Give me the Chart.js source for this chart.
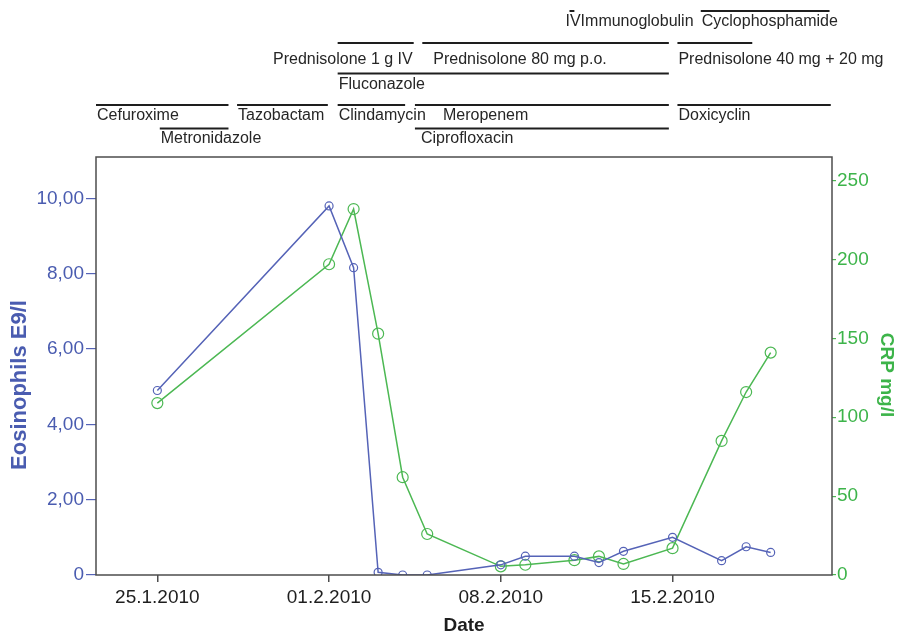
<!DOCTYPE html>
<html>
<head>
<meta charset="utf-8">
<script src="https://cdn.jsdelivr.net/npm/chart.js@4.4.1/dist/chart.umd.min.js"></script>
<style>
  html, body { margin: 0; padding: 0; background: #fff; }
  #wrap { width: 901px; height: 637px; position: relative; }
</style>
</head>
<body>
<div id="wrap"><canvas id="grafico"></canvas></div>
<script>
// sample dates (day.month, 2010)
var dates = ['25.1', '1.2', '2.2', '3.2', '4.2', '5.2', '8.2', '9.2', '11.2', '12.2', '13.2', '15.2', '17.2', '18.2', '19.2'];
var eosinophils = [4.9, 9.8, 8.16, 0.07, 0, 0, 0.27, 0.5, 0.5, 0.33, 0.63, 1.0, 0.38, 0.75, 0.6];
var crp = [109, 197, 232, 153, 62, 26, 5.5, 6.5, 9.4, 11.8, 7, 17, 85, 116, 141];

var xTickLabels = ['25.1.2010', '01.2.2010', '08.2.2010', '15.2.2010'];
var eosTicks = [0, 2, 4, 6, 8, 10];
var crpTicks = [0, 50, 100, 150, 200, 250];

// therapies, start/end as day of year 2010 (1 = 1 Jan), row 0 = top
var therapyNames = ['IVImmunoglobulin', 'Cyclophosphamide',
  'Prednisolone 1 g IV', 'Prednisolone 80 mg p.o.', 'Prednisolone 40 mg + 20 mg',
  'Fluconazole',
  'Cefuroxime', 'Tazobactam', 'Clindamycin', 'Meropenem', 'Doxicyclin',
  'Metronidazole', 'Ciprofloxacin'];
var therapyStart = [41.8, 47.15, 32.35, 35.8, 46.2, 32.35, 22.5, 28.25, 32.35, 35.5, 46.2, 25.1, 35.5];
var therapyEnd   = [42.0, 52.4, 35.45, 45.85, 49.25, 45.85, 27.9, 31.95, 35.1, 45.85, 52.45, 27.9, 45.85];
var therapyRow   = [0, 0, 1, 1, 1, 2, 3, 3, 3, 3, 3, 4, 4];

// layout of the therapy band (pixels)
var barY = [11, 43, 73.5, 105, 128.5];
var labelY = [22, 60, 85, 115.5, 138.5];
var labelShift = { 'IVImmunoglobulin': -5, 'Prednisolone 80 mg p.o.': 10, 'Meropenem': 27, 'Ciprofloxacin': 5 };

var BLUE = '#5563b7';
var BLUE_TXT = '#4a5cb0';
var GREEN = '#4cb853';
var GREEN_TXT = '#3db44a';
var FONT = '"Liberation Sans", Arial, sans-serif';

function dayOfYear(s) {
  var p = s.split('.');
  var d = parseInt(p[0], 10), m = parseInt(p[1], 10);
  return m === 1 ? d : 31 + d;
}

var xTickDays = xTickLabels.map(dayOfYear);
var eosData = dates.map(function (d, i) { return { x: dayOfYear(d), y: eosinophils[i] }; });
var crpData = dates.map(function (d, i) { return { x: dayOfYear(d), y: crp[i] }; });

var therapyPlugin = {
  id: 'therapies',
  afterDraw: function (chart) {
    var ctx = chart.ctx;
    var xs = chart.scales.x;
    var a = chart.chartArea;
    ctx.save();
    // frame round the plot
    ctx.strokeStyle = '#4d4d4d';
    ctx.lineWidth = 1.5;
    ctx.strokeRect(a.left, a.top, a.right - a.left, a.bottom - a.top);

    ctx.font = '16px ' + FONT;
    ctx.fillStyle = '#262626';
    ctx.textBaseline = 'middle';
    for (var i = 0; i < therapyNames.length; i++) {
      var x0 = xs.getPixelForValue(therapyStart[i]);
      var x1 = xs.getPixelForValue(therapyEnd[i]);
      var r = therapyRow[i];
      ctx.strokeStyle = '#1e1e1e';
      ctx.lineWidth = 2;
      ctx.beginPath();
      ctx.moveTo(x0, barY[r]);
      ctx.lineTo(x1, barY[r]);
      ctx.stroke();
      var name = therapyNames[i];
      if (name === 'Prednisolone 1 g IV') {
        ctx.textAlign = 'right';
        ctx.fillText(name, x1 - 1, labelY[r]);
      } else {
        ctx.textAlign = 'left';
        ctx.fillText(name, x0 + 1 + (labelShift[name] || 0), labelY[r]);
      }
    }

    // y axis titles
    ctx.textAlign = 'center';
    ctx.font = 'bold 22px ' + FONT;
    ctx.fillStyle = BLUE_TXT;
    ctx.save();
    ctx.translate(20, 385);
    ctx.rotate(-Math.PI / 2);
    ctx.fillText('Eosinophils E9/l', 0, 0);
    ctx.restore();

    ctx.font = 'bold 19px ' + FONT;
    ctx.fillStyle = GREEN_TXT;
    ctx.translate(886, 375);
    ctx.rotate(Math.PI / 2);
    ctx.fillText('CRP mg/l', 0, 0);
    ctx.restore();
  }
};

var ctx = document.getElementById('grafico');
var chart = new Chart(ctx, {
  type: 'line',
  data: {
    datasets: [{
      label: 'Eosinophils E9/l',
      data: eosData,
      yAxisID: 'y',
      borderColor: BLUE,
      borderWidth: 1.5,
      pointRadius: 4,
      pointBorderWidth: 1.2,
      pointBackgroundColor: 'rgba(0,0,0,0)',
      pointBorderColor: BLUE,
      tension: 0
    }, {
      label: 'CRP mg/l',
      data: crpData,
      yAxisID: 'y1',
      borderColor: GREEN,
      borderWidth: 1.5,
      pointRadius: 5.5,
      pointBorderWidth: 1.2,
      pointBackgroundColor: 'rgba(0,0,0,0)',
      pointBorderColor: GREEN,
      tension: 0
    }]
  },
  options: {
    responsive: true,
    maintainAspectRatio: false,
    animation: false,
    layout: { padding: { top: 157, left: 0, right: 0, bottom: 0 } },
    plugins: { legend: { display: false }, tooltip: { enabled: false } },
    scales: {
      x: {
        type: 'linear',
        min: 22.5,
        max: 52.5,
        afterBuildTicks: function (s) { s.ticks = xTickDays.map(function (v) { return { value: v }; }); },
        afterFit: function (s) { s.height = 62; },
        ticks: {
          autoSkip: false,
          maxRotation: 0,
          padding: 4,
          color: '#1e1e1e',
          font: { family: FONT, size: 19 },
          callback: function (v) { return xTickLabels[xTickDays.indexOf(v)]; }
        },
        grid: { display: true, drawOnChartArea: false, drawTicks: true, tickLength: 7, color: '#4d4d4d', lineWidth: 1.5 },
        border: { display: false },
        title: { display: true, text: 'Date', color: '#1e1e1e', font: { family: FONT, size: 19, weight: 'bold' }, padding: { top: 3, bottom: 0 } }
      },
      y: {
        position: 'left',
        min: 0,
        max: 11.1,
        afterBuildTicks: function (s) { s.ticks = eosTicks.map(function (v) { return { value: v }; }); },
        afterFit: function (s) { s.width = 96; },
        ticks: {
          padding: 2,
          color: BLUE_TXT,
          font: { family: FONT, size: 19 },
          callback: function (v) { return v === 0 ? '0' : v.toFixed(2).replace('.', ','); }
        },
        grid: { display: true, drawOnChartArea: false, drawTicks: true, tickLength: 10, color: BLUE, lineWidth: 1.2 },
        border: { display: false }
      },
      y1: {
        position: 'right',
        min: 0,
        max: 265,
        afterBuildTicks: function (s) { s.ticks = crpTicks.map(function (v) { return { value: v }; }); },
        afterFit: function (s) { s.width = 69; },
        ticks: {
          padding: 1,
          color: GREEN_TXT,
          font: { family: FONT, size: 19 },
          callback: function (v) { return String(v); }
        },
        grid: { display: true, drawOnChartArea: false, drawTicks: true, tickLength: 4, color: GREEN, lineWidth: 1.2 },
        border: { display: false }
      }
    }
  },
  plugins: [therapyPlugin]
});
</script>
</body>
</html>
